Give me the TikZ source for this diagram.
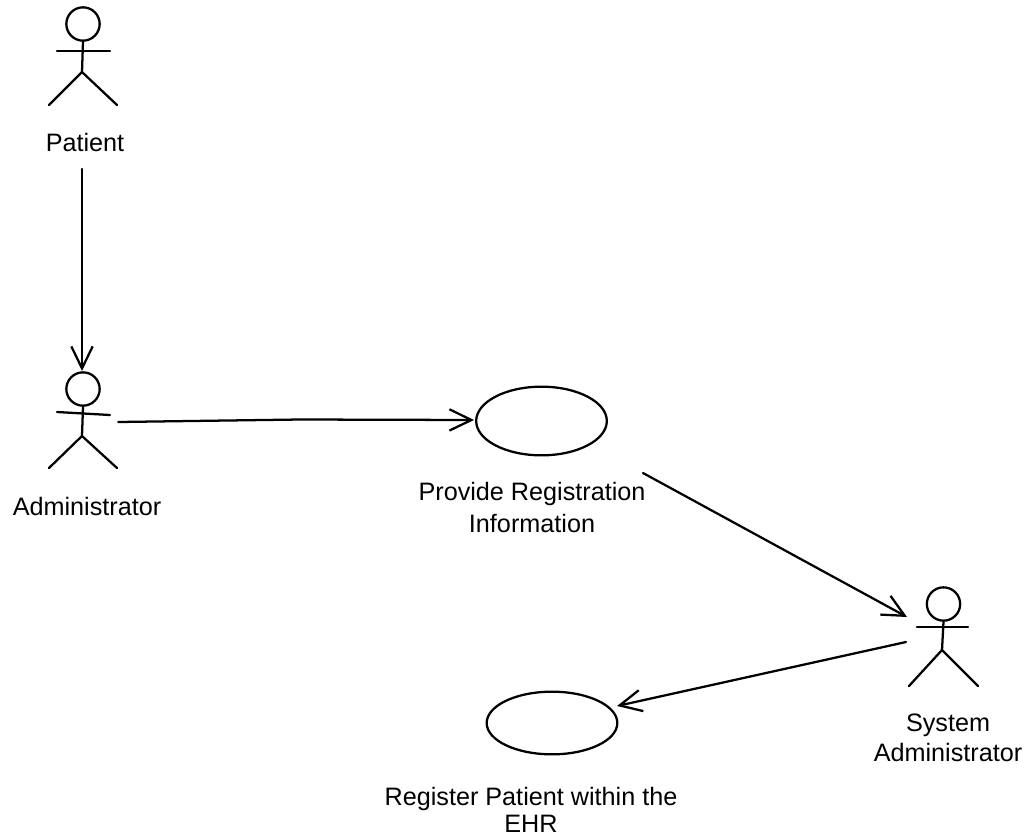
\documentclass[tikz,border=0pt]{standalone}
\usepackage{fontspec}
\setmainfont{Liberation Sans}
\usetikzlibrary{arrows.meta,shapes.geometric}
\tikzset{
  ln/.style={line width=1.7pt,line cap=round,black},
  conn/.style={ln,-{Straight Barb[length=16.5pt,width=16pt,line width=1.7pt]}},
  usecase/.style={ellipse,draw,line width=1.7pt,minimum width=98pt,inner sep=0pt},
  head/.style={circle,draw,line width=1.7pt,minimum size=25pt,inner sep=0pt},
  lbl/.style={align=center,inner sep=0pt,font=\fontsize{18.9pt}{#1}\selectfont},
  lbl/.default=22.5pt,
  actorbox/.style={inner sep=0pt,minimum width=51.75pt,minimum height=73.5pt}
}
\begin{document}
\begin{tikzpicture}[x=0.75pt,y=-0.75pt]
\useasboundingbox (0,0) rectangle (1031,836);
% Patient
\node[head] (phead) at (83,24) {};
\draw[ln] (phead.south) -- (82,72) coordinate (phip);
\draw[ln] (57,51) -- (110,51);
\draw[ln] (49,105) -- (phip) -- (117,105);
\node[lbl] (plabel) at (85,142) {Patient};
% Administrator
\node[head] (ahead) at (83,389) {};
\draw[ln] (ahead.south) -- (82,436) coordinate (ahip);
\draw[ln] (57,412) -- (110,415);
\draw[ln] (49,468) -- (ahip) -- (117,468);
\node[lbl] (alabel) at (87,506) {Administrator};
\node[actorbox] (abox) at (83.5,422) {};
% System Administrator
\node[head] (shead) at (943.5,604) {};
\draw[ln] (shead.south) -- (942,650) coordinate (ship);
\draw[ln] (917,627) -- (968,627);
\draw[ln] (909,686) -- (ship) -- (978,686);
\node[lbl] (slabel) at (948,737.5) {System\\Administrator};
% Use cases
\node[usecase,minimum height=51.5pt] (provide) at (541.5,421) {};
\node[lbl=24pt] (prlabel) at (532,507) {Provide Registration\\Information};
\node[usecase,minimum height=47pt] (register) at (552,723) {};
\node[lbl=20.25pt] (relabel) at (531,810) {Register Patient within the\\EHR};
% Free ends
\coordinate (pout) at (82,169);
\coordinate (ain) at (82,371);
\coordinate (abend) at (300,419.5);
\coordinate (prin) at (474,420);
\coordinate (prout) at (643,473);
\coordinate (sin) at (907,617);
\coordinate (sout) at (906,642);
\coordinate (rein) at (617,706);
% Connectors
\draw[conn] (pout) -- (ain);
\draw[conn] (abox.east) -- (abend) -- (prin);
\draw[conn] (prout) -- (sin);
\draw[conn] (sout) -- (rein);
\end{tikzpicture}
\end{document}
